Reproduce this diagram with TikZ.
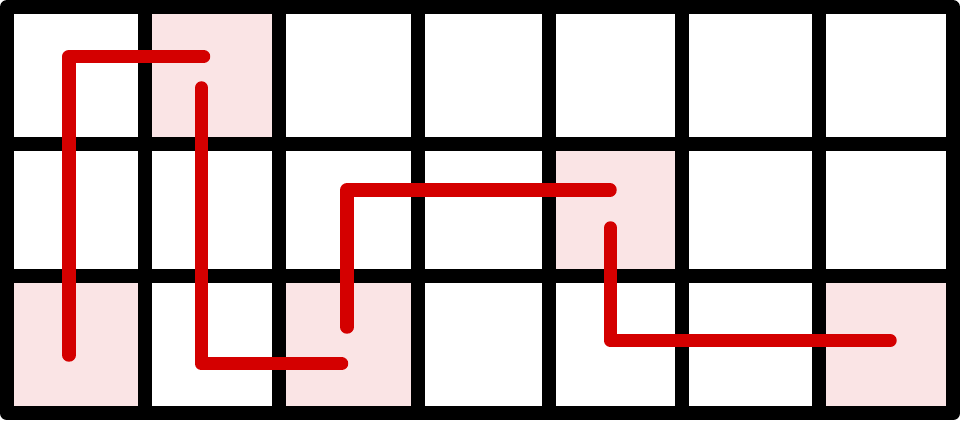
\documentclass[tikz,border=0pt]{standalone}
\usetikzlibrary{calc}
\definecolor{gridInk}{RGB}{0,0,0}
\definecolor{cellPink}{RGB}{250,228,229}
\definecolor{routeRed}{RGB}{212,0,0}
\tikzset{
  gridline/.style={draw=gridInk, line width=.14cm, line join=round,
    line cap=butt},
  pinkcell/.style={fill=cellPink},
  route/.style={draw=routeRed, line width=.135cm, line cap=round,
    line join=round}
}
\begin{document}
\begin{tikzpicture}
\path[use as bounding box] (0,0) rectangle (9.6,4.21);

% shaded cells
\fill[pinkcell] (1.45,2.775) rectangle (2.79,4.14);
\fill[pinkcell] (5.49,1.445) rectangle (6.82,2.775);
\fill[pinkcell] (0.07,0.075) rectangle (1.45,1.445);
\fill[pinkcell] (2.79,0.075) rectangle (4.18,1.445);
\fill[pinkcell] (8.195,0.075) rectangle (9.53,1.445);

% grid
\draw[gridline] (1.45,0.075) -- (1.45,4.14);
\draw[gridline] (2.79,0.075) -- (2.79,4.14);
\draw[gridline] (4.18,0.075) -- (4.18,4.14);
\draw[gridline] (5.49,0.075) -- (5.49,4.14);
\draw[gridline] (6.82,0.075) -- (6.82,4.14);
\draw[gridline] (8.195,0.075) -- (8.195,4.14);
\draw[gridline] (0.07,2.775) -- (9.53,2.775);
\draw[gridline] (0.07,1.445) -- (9.53,1.445);
\draw[gridline] (0.07,0.075) rectangle (9.53,4.14);

% route points
\coordinate (a0) at (0.69,0.66);
\coordinate (a1) at (0.69,3.645);
\coordinate (a2) at (2.035,3.645);
\coordinate (b0) at (2.015,3.33);
\coordinate (b1) at (2.015,0.573);
\coordinate (b2) at (3.415,0.573);
\coordinate (c0) at (3.47,0.94);
\coordinate (c1) at (3.47,2.31);
\coordinate (c2) at (6.10,2.31);
\coordinate (d0) at (6.105,1.93);
\coordinate (d1) at (6.105,0.805);
\coordinate (d2) at (8.90,0.805);

\draw[route] (a0) -- (a1) -- (a2);
\draw[route] (b0) -- (b1) -- (b2);
\draw[route] (c0) -- (c1) -- (c2);
\draw[route] (d0) -- (d1) -- (d2);
\end{tikzpicture}
\end{document}
